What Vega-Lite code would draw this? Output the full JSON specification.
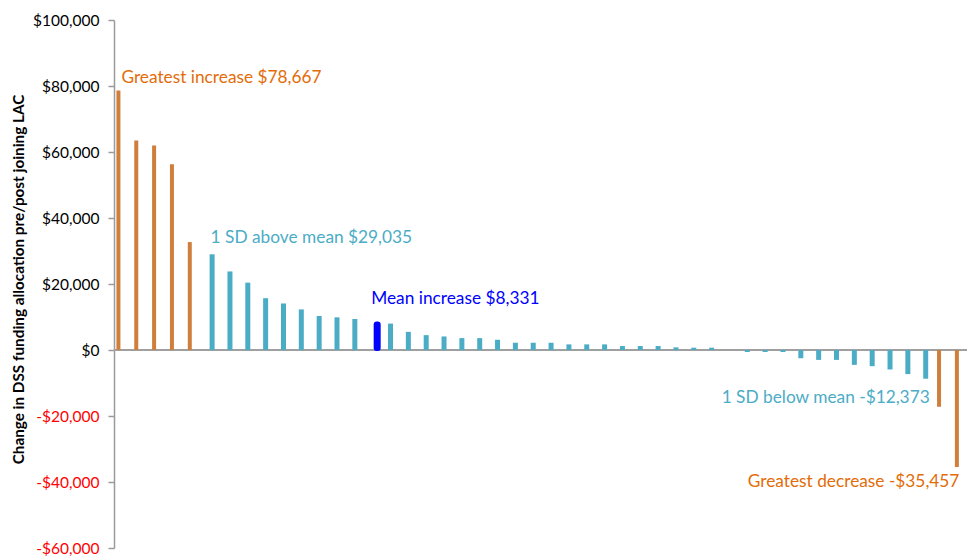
{
  "$schema": "https://vega.github.io/schema/vega-lite/v6.json",
  "width": 853,
  "height": 528,
  "autosize": {"type": "none"},
  "padding": {"left": 114, "top": 20, "right": 0, "bottom": 9},
  "background": "white",
  "config": {
    "view": {"stroke": null},
    "font": "Lato"
  },
  "datasets": {
    "allocations": [
      {"rank": 1, "change": 78667, "group": "Outlier"},
      {"rank": 2, "change": 63500, "group": "Outlier"},
      {"rank": 3, "change": 62000, "group": "Outlier"},
      {"rank": 4, "change": 56300, "group": "Outlier"},
      {"rank": 5, "change": 32700, "group": "Outlier"},
      {"rank": 6, "change": 29000, "group": "Within 1 SD"},
      {"rank": 7, "change": 23800, "group": "Within 1 SD"},
      {"rank": 8, "change": 20400, "group": "Within 1 SD"},
      {"rank": 9, "change": 15700, "group": "Within 1 SD"},
      {"rank": 10, "change": 14100, "group": "Within 1 SD"},
      {"rank": 11, "change": 12300, "group": "Within 1 SD"},
      {"rank": 12, "change": 10300, "group": "Within 1 SD"},
      {"rank": 13, "change": 9900, "group": "Within 1 SD"},
      {"rank": 14, "change": 9400, "group": "Within 1 SD"},
      {"rank": 15, "change": 8331, "group": "Mean"},
      {"rank": 16, "change": 8000, "group": "Within 1 SD"},
      {"rank": 17, "change": 5500, "group": "Within 1 SD"},
      {"rank": 18, "change": 4500, "group": "Within 1 SD"},
      {"rank": 19, "change": 4100, "group": "Within 1 SD"},
      {"rank": 20, "change": 3600, "group": "Within 1 SD"},
      {"rank": 21, "change": 3600, "group": "Within 1 SD"},
      {"rank": 22, "change": 3100, "group": "Within 1 SD"},
      {"rank": 23, "change": 2200, "group": "Within 1 SD"},
      {"rank": 24, "change": 2200, "group": "Within 1 SD"},
      {"rank": 25, "change": 2200, "group": "Within 1 SD"},
      {"rank": 26, "change": 1700, "group": "Within 1 SD"},
      {"rank": 27, "change": 1700, "group": "Within 1 SD"},
      {"rank": 28, "change": 1700, "group": "Within 1 SD"},
      {"rank": 29, "change": 1200, "group": "Within 1 SD"},
      {"rank": 30, "change": 1200, "group": "Within 1 SD"},
      {"rank": 31, "change": 1200, "group": "Within 1 SD"},
      {"rank": 32, "change": 800, "group": "Within 1 SD"},
      {"rank": 33, "change": 700, "group": "Within 1 SD"},
      {"rank": 34, "change": 700, "group": "Within 1 SD"},
      {"rank": 35, "change": 0, "group": "Within 1 SD"},
      {"rank": 36, "change": -600, "group": "Within 1 SD"},
      {"rank": 37, "change": -600, "group": "Within 1 SD"},
      {"rank": 38, "change": -600, "group": "Within 1 SD"},
      {"rank": 39, "change": -2500, "group": "Within 1 SD"},
      {"rank": 40, "change": -3000, "group": "Within 1 SD"},
      {"rank": 41, "change": -3000, "group": "Within 1 SD"},
      {"rank": 42, "change": -4500, "group": "Within 1 SD"},
      {"rank": 43, "change": -4900, "group": "Within 1 SD"},
      {"rank": 44, "change": -5900, "group": "Within 1 SD"},
      {"rank": 45, "change": -7300, "group": "Within 1 SD"},
      {"rank": 46, "change": -8700, "group": "Within 1 SD"},
      {"rank": 47, "change": -17200, "group": "Outlier"},
      {"rank": 48, "change": -35457, "group": "Outlier"}
    ],
    "notes": [
      {"rank": 1, "at": 80900, "label": "Greatest increase $78,667", "kind": "Outlier", "side": "left"},
      {"rank": 6, "at": 32500, "label": "1 SD above mean $29,035", "kind": "SD", "side": "left"},
      {"rank": 15, "at": 13900, "label": "Mean increase $8,331", "kind": "Mean", "side": "left"},
      {"rank": 46, "at": -16000, "label": "1 SD below mean -$12,373", "kind": "SD", "side": "right"},
      {"rank": 48, "at": -41400, "label": "Greatest decrease -$35,457", "kind": "Outlier", "side": "end"}
    ]
  },
  "encoding": {
    "x": {
      "field": "rank",
      "type": "ordinal",
      "axis": null,
      "scale": {"range": [0, 856.3], "paddingInner": 0, "paddingOuter": 0}
    }
  },
  "layer": [
    {
      "data": {"values": [{}]},
      "mark": {"type": "rule", "color": "#A0A0A0", "strokeWidth": 2},
      "encoding": {"x": null, "y": {"datum": 0, "type": "quantitative"}}
    },
    {
      "data": {"name": "allocations"},
      "transform": [{"filter": "datum.group === 'Outlier'"}],
      "mark": {"type": "bar", "width": 4, "xOffset": -4.5, "color": "#CF7E3C"},
      "encoding": {
        "y": {
          "field": "change",
          "type": "quantitative",
          "scale": {"domain": [-60000, 100000], "nice": false, "zero": true},
          "axis": {
            "values": [-60000, -40000, -20000, 0, 20000, 40000, 60000, 80000, 100000],
            "labelExpr": "datum.value < 0 ? '-$' + format(-datum.value, ',') : '$' + format(datum.value, ',')",
            "labelFont": "Lato",
            "labelFontSize": 15.5,
            "labelColor": {"condition": {"test": "datum.value < 0", "value": "#FF0000"}, "value": "#000000"},
            "labelPadding": 9,
            "grid": false,
            "domainColor": "#9A9A9A",
            "domainWidth": 1.5,
            "tickColor": "#9A9A9A",
            "tickWidth": 1.5,
            "tickSize": 6,
            "title": "Change in DSS funding allocation pre/post joining LAC",
            "titleFont": "Lato",
            "titleFontSize": 15.3,
            "titleFontWeight": "bold",
            "titleColor": "#000000",
            "titleAngle": -90,
            "titleAlign": "center",
            "titleBaseline": "middle",
            "titleX": -96,
            "titleY": 259
          }
        }
      }
    },
    {
      "data": {"name": "allocations"},
      "transform": [{"filter": "datum.group === 'Within 1 SD'"}],
      "mark": {"type": "bar", "width": 5, "color": "#4BACC6"},
      "encoding": {"y": {"field": "change", "type": "quantitative"}}
    },
    {
      "data": {"name": "allocations"},
      "transform": [{"filter": "datum.group === 'Mean'"}],
      "mark": {
        "type": "bar",
        "width": 5,
        "xOffset": 4.5,
        "color": "#0000FF",
        "stroke": "#0000FF",
        "strokeWidth": 2,
        "strokeJoin": "round",
        "cornerRadius": 2
      },
      "encoding": {"y": {"field": "change", "type": "quantitative"}}
    },
    {
      "data": {"name": "notes"},
      "transform": [{"filter": "datum.side === 'left'"}],
      "mark": {"type": "text", "align": "left", "baseline": "alphabetic", "font": "Lato", "fontSize": 17.3, "dx": -1.5},
      "encoding": {
        "y": {"field": "at", "type": "quantitative"},
        "text": {"field": "label"},
        "color": {
          "field": "kind",
          "type": "nominal",
          "scale": {"domain": ["Outlier", "SD", "Mean"], "range": ["#E36C09", "#4BACC6", "#0000FF"]},
          "legend": null
        }
      }
    },
    {
      "data": {"name": "notes"},
      "transform": [{"filter": "datum.side === 'right'"}],
      "mark": {"type": "text", "align": "right", "baseline": "alphabetic", "font": "Lato", "fontSize": 17.3, "dx": 4},
      "encoding": {
        "y": {"field": "at", "type": "quantitative"},
        "text": {"field": "label"},
        "color": {"field": "kind", "type": "nominal", "legend": null}
      }
    },
    {
      "data": {"name": "notes"},
      "transform": [{"filter": "datum.side === 'end'"}],
      "mark": {"type": "text", "align": "right", "baseline": "alphabetic", "font": "Lato", "fontSize": 17.3, "dx": -2},
      "encoding": {
        "y": {"field": "at", "type": "quantitative"},
        "text": {"field": "label"},
        "color": {"field": "kind", "type": "nominal", "legend": null}
      }
    }
  ]
}
